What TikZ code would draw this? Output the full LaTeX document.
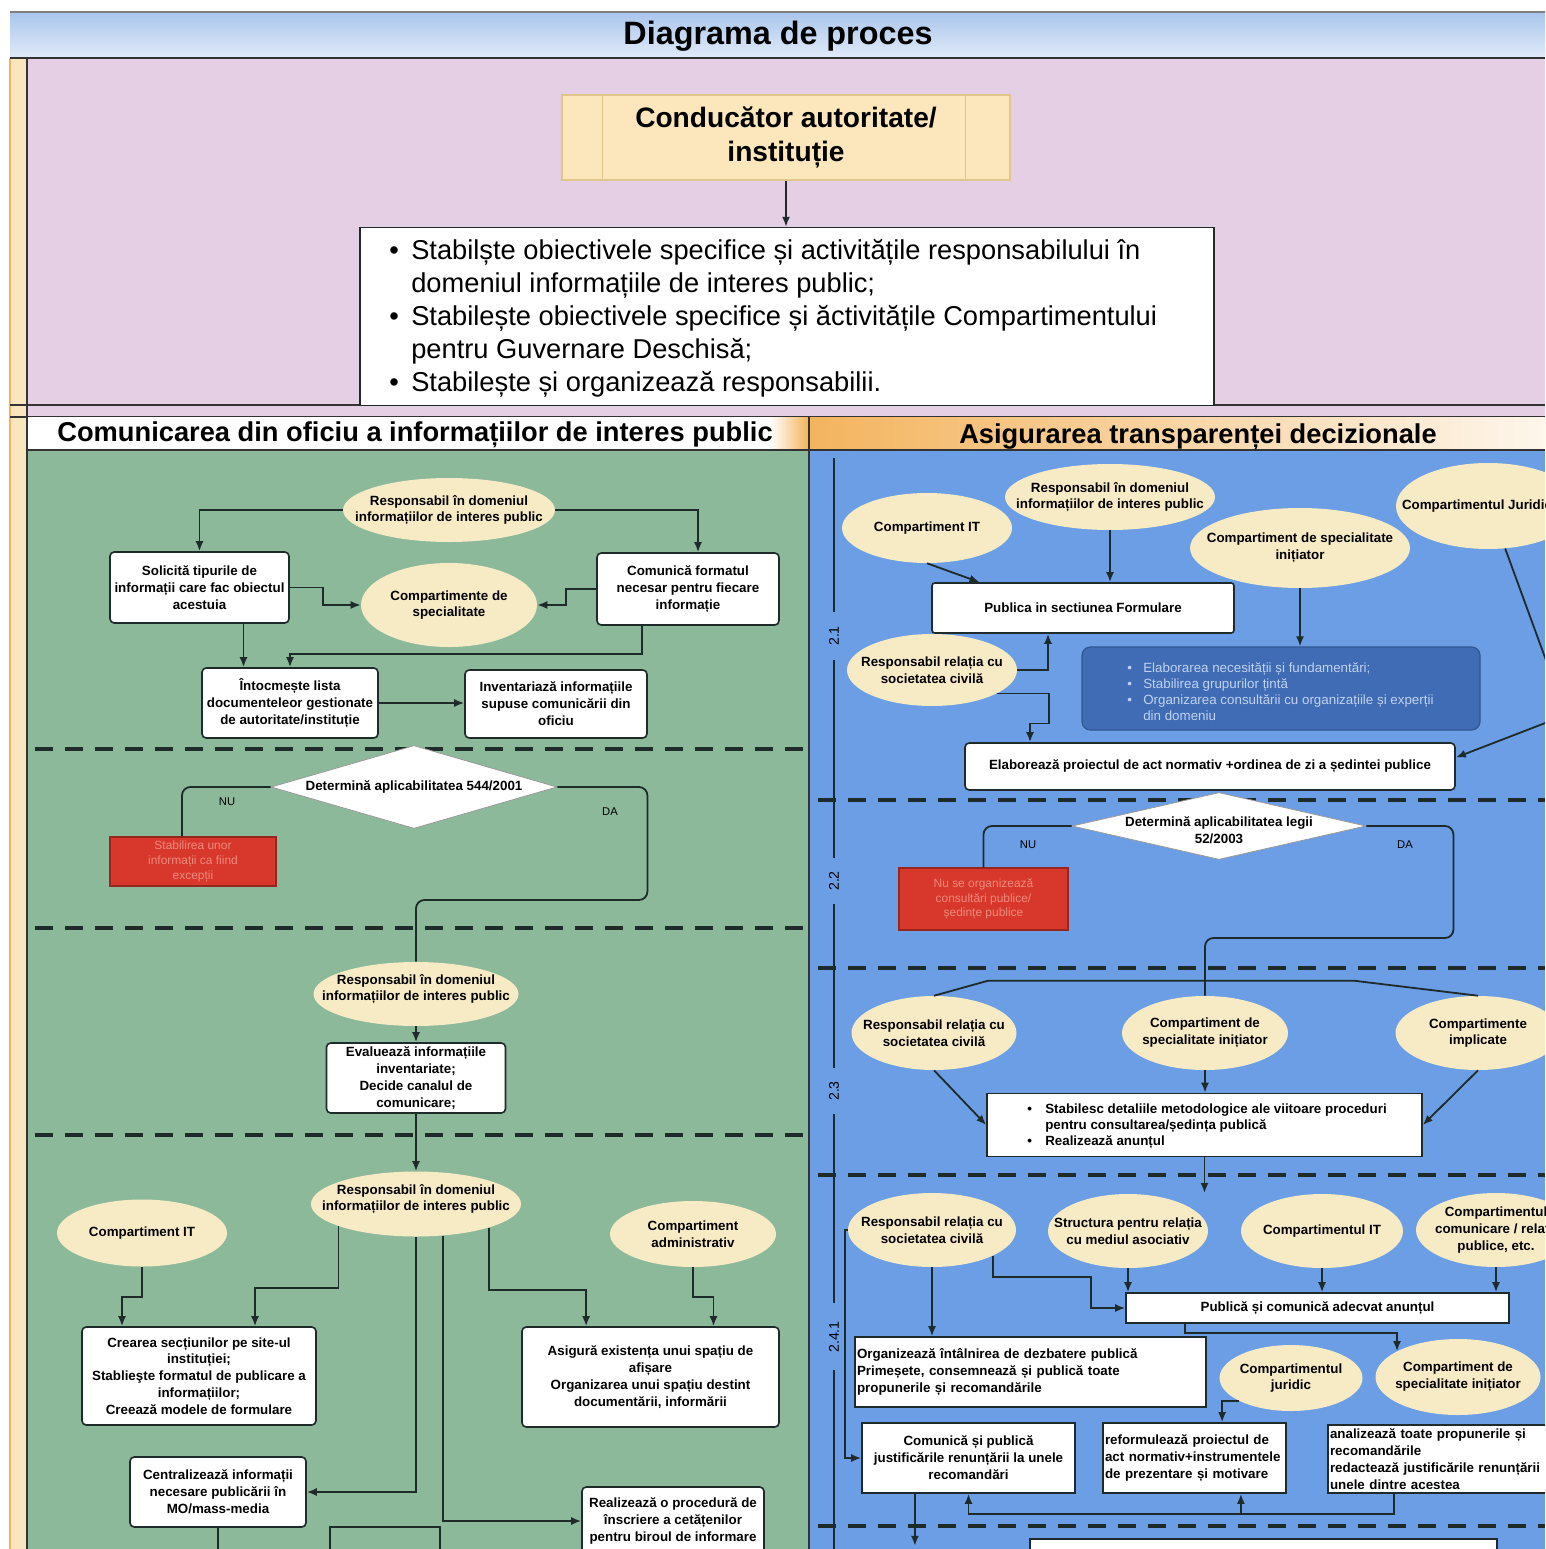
\documentclass[tikz,border=0pt]{standalone}
\usepackage{fontspec}
\setmainfont{Liberation Sans}
\usetikzlibrary{shapes.geometric,arrows.meta,positioning}
\definecolor{lilac}{HTML}{E4CFE5}
\definecolor{leaf}{HTML}{8DB99B}
\definecolor{sky}{HTML}{6B9EE4}
\definecolor{cream}{HTML}{F6EBC4}
\definecolor{hdblue}{HTML}{A9C5EC}
\definecolor{hdorange}{HTML}{F3B45E}
\definecolor{strip}{HTML}{F9E6BF}
\definecolor{leadfill}{HTML}{FBE7BB}
\definecolor{leadline}{HTML}{E2C58A}
\definecolor{alarm}{HTML}{D8382B}
\definecolor{alarmtext}{HTML}{EE8A7E}
\definecolor{deepblue}{HTML}{3F6CB5}
\definecolor{deeptext}{HTML}{C2D2F0}
\definecolor{ink}{HTML}{1F2A2A}
\newcommand{\bul}[1]{\makebox[#1][l]{\textbullet}}

\begin{document}
\begin{tikzpicture}[x=0.25mm,y=-0.25mm,
	ell/.style={ellipse,fill=cream,inner sep=0pt},
	txt/.style={inner sep=0pt,align=center,font=\fontsize{9.5}{12}\selectfont\bfseries},
	box/.style={rectangle,draw=ink,line width=0.4mm,fill=white,rounded corners=3pt,inner sep=1pt,align=center,font=\fontsize{9.5}{12}\selectfont\bfseries},
	sqbox/.style={box,sharp corners},
	redbox/.style={rectangle,fill=alarm,draw=alarm!70!black,line width=0.3mm,inner sep=0.5pt,align=center,text=alarmtext,font=\fontsize{8.5}{10.5}\selectfont},
	darkbox/.style={rectangle,rounded corners=6pt,fill=deepblue,draw=deepblue!80!black,line width=0.3mm},
	decide/.style={diamond,fill=white,draw=black!40,line width=0.2mm,inner sep=0pt},
	leadbox/.style={rectangle,fill=leadfill,draw=leadline,line width=0.3mm,align=center,font=\fontsize{20}{24}\selectfont\bfseries},
	headtxt/.style={inner sep=0pt,font=\fontsize{19.4}{23}\selectfont\bfseries},
	dutytxt/.style={inner sep=0pt,align=left,font=\fontsize{19.4}{23.5}\selectfont},
	needtxt/.style={inner sep=0pt,align=left,text=deeptext,font=\fontsize{9.5}{11.4}\selectfont},
	listtxt/.style={inner sep=0pt,align=left,font=\fontsize{9.5}{11.5}\selectfont\bfseries},
	yesno/.style={inner sep=0pt,font=\fontsize{8}{9}\selectfont},
	phase/.style={inner sep=0pt,rotate=90,font=\fontsize{10}{12}\selectfont},
	wire/.style={draw=ink,line width=0.45mm},
	arr/.style={wire,-{Latex[length=2.5mm,width=2mm]}},
	cutline/.style={draw=ink,line width=1.1mm,dash pattern=on 4.5mm off 3mm}]

	\useasboundingbox (0,0) rectangle (1545,1549);
	\clip (0,0) rectangle (1545,1549);

	% background bands
	\fill[white] (0,0) rectangle (1545,1549);
	\shade[top color=hdblue,bottom color=hdblue!35!white] (10,12) rectangle (1545,58);
	\draw[black!50,line width=0.3mm] (10,12) -- (1545,12);
	\fill[strip] (10,58) rectangle (27,1549);
	\draw[hdorange,line width=0.3mm] (10,58) -- (10,1549);
	\fill[lilac] (27,58) rectangle (1545,417);
	\draw[black!80,line width=0.6mm] (10,58) -- (1545,58);
	\draw[black!80,line width=0.5mm] (10,405) -- (1545,405);
	\draw[black!80,line width=0.5mm] (10,417) -- (1545,417);
	\fill[white] (27,417) rectangle (808,450);
	\shade[left color=white,right color=hdorange] (770,417) rectangle (808,450);
	\shade[left color=hdorange,right color=hdorange!12!white] (810,417) rectangle (1545,450);
	\fill[leaf] (27,450) rectangle (808,1549);
	\fill[sky] (810,450) rectangle (1545,1549);
	\draw[black!80,line width=0.4mm] (27,450) -- (1545,450);
	\draw[black!80,line width=0.4mm] (27,58) -- (27,1549);
	\draw[black!80,line width=0.6mm] (809,417) -- (809,1549);

	\node[inner sep=0pt,font=\fontsize{23}{27}\selectfont\bfseries] (title) at (778,36) {Diagrama de proces};
	\node[headtxt] (hdleft) at (415,435) {Comunicarea din oficiu a informațiilor de interes public};
	\node[headtxt] (hdright) at (1198,437) {Asigurarea transparenței decizionale};

	% top part
	\node[leadbox,minimum width=112mm,minimum height=21.25mm] (lead) at (786,137.5) {Conducător autoritate/\\instituție};
	\draw[leadline,line width=0.3mm] ([xshift=10.25mm]lead.north west) -- ([xshift=10.25mm]lead.south west);
	\draw[leadline,line width=0.3mm] ([xshift=-11.25mm]lead.north east) -- ([xshift=-11.25mm]lead.south east);
	\node[rectangle,fill=white,draw=ink,line width=0.35mm,minimum width=213.5mm,minimum height=44.5mm] (duties) at (787,316.5) {};
	\node[dutytxt,anchor=west] (dutylist) at (389,318) {\bul{5.5mm}Stabilște obiectivele specifice și activitățile responsabilului în\\
		\hspace*{5.5mm}domeniul informațiile de interes  public;\\
		\bul{5.5mm}Stabilește obiectivele specifice și ăctivitățile Compartimentului\\
		\hspace*{5.5mm}pentru Guvernare Deschisă;\\
		\bul{5.5mm}Stabilește și organizează responsabilii.};
	\draw[arr] (lead.south) -- (lead.south |- duties.north);

	% left panel
	\foreach \y in {749,928,1135}
		\draw[cutline] (35,\y) -- (803,\y);

	\node[ell,minimum width=53mm,minimum height=16mm] (respA) at (449,510) {};
	\node[ell,minimum width=44mm,minimum height=21mm] (specL) at (449,605) {};
	\node[txt] (respAtxt) at (respA) {Responsabil în domeniul\\informațiilor de interes public};
	\node[txt] (specLtxt) at (specL) {Compartimente de\\specialitate};
	\node[box,minimum width=44.75mm,minimum height=17.75mm] (ask) at (199.5,587.5) {Solicită  tipurile de\\informații care fac obiectul\\acestuia};
	\node[box,minimum width=45.5mm,minimum height=18mm] (fmt) at (688,589) {Comunică formatul\\necesar pentru fiecare\\informație};
	\node[box,minimum width=44mm,minimum height=17.5mm] (list) at (290,703) {Întocmește lista\\documenteleor gestionate\\de autoritate/instituție};
	\node[box,minimum width=45.5mm,minimum height=17mm] (inv) at (556,704) {Inventariază informațiile\\supuse comunicării din\\oficiu};

	\draw[arr] (respA.west) -| (ask.north);
	\draw[arr] (respA.east) -| ([xshift=2.5mm]fmt.north);
	\draw[arr] (ask.east) -- ++(33,0) |- (specL.west);
	\draw[arr] (fmt.west) -- ++(-30,0) |- (specL.east);
	\draw[arr] ([xshift=11mm]ask.south) -- ([xshift=11mm]ask.south |- list.north);
	\draw[arr] ([xshift=-11.5mm]fmt.south) -- ++(0,28) -| (list.north);
	\draw[arr] (list.east) -- (list.east -| inv.west);

	\node[decide,minimum width=71.5mm,minimum height=20.75mm] (law1) at (414,787) {};
	\node[txt] (law1txt) at (law1) {Determină aplicabilitatea  544/2001};
	\node[redbox,minimum width=41.5mm,minimum height=12.25mm] (exc) at (193,861.5) {Stabilirea unor\\informații ca fiind\\excepții};
	\node[yesno] (nu1) at (227,802) {NU};
	\node[yesno] (da1) at (610,812) {DA};

	\node[ell,minimum width=51.25mm,minimum height=16mm] (respB) at (416,994) {};
	\node[txt] (respBtxt) at (416,989) {Responsabil în domeniul\\informațiilor de interes public};
	\node[box,minimum width=44.75mm,minimum height=17.5mm] (eval) at (416,1078) {Evaluează informațiile\\inventariate;\\Decide canalul de\\comunicare;};
	\node[ell,minimum width=52.5mm,minimum height=16.25mm] (respC) at (416,1204) {};
	\node[txt] (respCtxt) at (416,1199) {Responsabil în domeniul\\informațiilor de interes public};

	\draw[wire,rounded corners=6pt] (law1.west) -| ([xshift=-2.75mm]exc.north);
	\draw[wire,rounded corners=6pt] (law1.east) -- ++(90,0) -- ++(0,113) -| (respB.north);
	\draw[arr] (respB) -- (eval);
	\draw[arr] (eval) -- (respC);

	\node[ell,minimum width=42.5mm,minimum height=16.75mm] (itA) at (142,1233) {};
	\node[txt] (itAtxt) at (itA) {Compartiment IT};
	\node[ell,minimum width=41.5mm,minimum height=16.5mm] (admin) at (693,1234) {};
	\node[txt] (admintxt) at (admin) {Compartiment\\administrativ};
	\node[box,minimum width=58.5mm,minimum height=24.5mm] (site) at (199,1376) {Crearea secțiunilor pe site-ul\\instituției;\\Stablieşte formatul de publicare a\\informațiilor;\\Creează modele de formulare};
	\node[box,minimum width=64.25mm,minimum height=25mm] (space) at (650.5,1377) {Asigură existența unui spațiu de\\afișare\\Organizarea unui spațiu destint\\documentării, informării};
	\node[box,minimum width=44mm,minimum height=17.5mm] (media) at (218,1492) {Centralizează informații\\necesare publicării în\\MO/mass-media};
	\node[box,minimum width=45.5mm,minimum height=17mm] (enrol) at (673,1521) {Realizează o procedură de\\înscriere a cetățenilor\\pentru biroul de informare};

	\draw[arr] (itA.south) -- ++(0,30) -| ([xshift=-19.25mm]site.north);
	\draw[arr] (respC.196) -- ++(0,62) -| ([xshift=14mm]site.north);
	\draw[arr] (respC.south) |- (media.east);
	\draw[arr] (respC.310) |- (enrol.west);
	\draw[arr] (respC.342) -- ++(0,62) -| ([xshift=-16.1mm]space.north);
	\draw[arr] (admin.south) -- ++(0,30) -| ([xshift=15.75mm]space.north);
	\coordinate (mediaout) at (218,1562);
	\draw[arr] (media) -- (mediaout);
	\coordinate (loopL) at (330,1560);
	\coordinate (loopR) at (440,1560);
	\draw[wire] (loopL) -- ++(0,-33) -| (loopR);

	% right panel
	\foreach \y in {800,968,1175,1526}
		\draw[cutline] (818,\y) -- (1545,\y);
	\foreach \ya/\yb in {458/612,660/858,904/1068,1114/1303,1370/1549}
		\draw[wire,line width=0.35mm] (834,\ya) -- (834,\yb);
	\node[phase] (st1) at (834,636) {2.1};
	\node[phase] (st2) at (834,881) {2.2};
	\node[phase] (st3) at (834,1091) {2.3};
	\node[phase] (st4) at (834,1337) {2.4.1};

	\node[ell,minimum width=42.5mm,minimum height=17.5mm] (itB) at (927,528) {};
	\node[ell,minimum width=52.5mm,minimum height=16.5mm] (respD) at (1110,497) {};
	\node[ell,minimum width=55mm,minimum height=20mm] (specA) at (1300,548) {};
	\node[ell,minimum width=46mm,minimum height=21.5mm] (jurA) at (1488,506) {};
	\node[ell,minimum width=42.5mm,minimum height=18mm] (socA) at (932,670) {};
	\node[txt] (itBtxt) at (itB) {Compartiment IT};
	\node[txt] (respDtxt) at (respD) {Responsabil în domeniul\\informațiilor de interes public};
	\node[txt] (specAtxt) at (specA) {Compartiment de specialitate\\inițiator};
	\node[txt] (jurAtxt) at (1477,506) {Compartimentul Juridic};
	\node[txt] (socAtxt) at (socA) {Responsabil relația cu\\societatea civilă};
	\node[box,rounded corners=2pt,minimum width=75.5mm,minimum height=12.5mm] (formA) at (1083,608) {Publica in sectiunea Formulare};
	\node[darkbox,minimum width=99.5mm,minimum height=20.75mm] (needs) at (1281,688.5) {};
	\node[needtxt,anchor=west] (needstxt) at (1127,692) {\bul{4mm}Elaborarea necesității și fundamentări;\\
		\bul{4mm}Stabilirea grupurilor țintă\\
		\bul{4mm}Organizarea consultării cu organizațiile și experții\\
		\hspace*{4mm}din domeniu};
	\node[box,minimum width=122.5mm,minimum height=11.75mm] (draftA) at (1210,766.5) {Elaborează  proiectul de act normativ +ordinea de zi a ședintei publice};

	\draw[arr] (itB.south) -- (formA.166);
	\draw[arr] (respD.south) -- (respD.south |- formA.north);
	\draw[arr] (specA.south) -- (specA.south |- needs.north);
	\draw[arr] (socA.east) -| ([xshift=-8.75mm]formA.south);
	\draw[arr] (socA.340) -- ++(52,0) -- ++(0,30) -| ([xshift=-45mm]draftA.north);
	\coordinate (jurbend) at (1566,715);
	\draw[arr] (jurA.292) -- (jurbend) -- ([yshift=2.25mm]draftA.east);

	\node[decide,minimum width=73.5mm,minimum height=16.75mm] (law2) at (1219,826) {};
	\node[txt] (law2txt) at (1219,830) {Determină aplicabilitatea legii\\52/2003};
	\node[redbox,minimum width=42.25mm,minimum height=15.5mm] (noc) at (983.5,899) {Nu se organizează\\consultări publice/\\ședințe publice};
	\node[yesno] (nu2) at (1028,845) {NU};
	\node[yesno] (da2) at (1405,845) {DA};

	\node[ell,minimum width=41.25mm,minimum height=18.5mm] (socB) at (934,1033) {};
	\node[ell,minimum width=41.5mm,minimum height=18.5mm] (specB) at (1205,1033) {};
	\node[ell,minimum width=41.25mm,minimum height=18.5mm] (impl) at (1478,1033) {};
	\node[txt] (socBtxt) at (socB) {Responsabil relația cu\\societatea civilă};
	\node[txt] (specBtxt) at (specB) {Compartiment de\\specialitate inițiator};
	\node[txt] (impltxt) at (impl) {Compartimente\\implicate};
	\node[sqbox,minimum width=108.75mm,minimum height=15.75mm] (methods) at (1204.5,1125) {};
	\node[listtxt,anchor=west] (methodstxt) at (1027,1126) {\bul{4.5mm}Stabilesc detaliile metodologice ale viitoare proceduri\\
		\hspace*{4.5mm}pentru consultarea/ședința publică\\
		\bul{4.5mm}Realizează anunțul};

	\draw[wire,rounded corners=6pt] (law2.west) -| (noc.north);
	\draw[wire,rounded corners=6pt] (law2.east) -- ++(87,0) -- ++(0,112) -| (specB.north);
	\draw[wire] (socB.north) -- ++(54,-15) -- ++(366,0) -- (impl.north);
	\draw[arr] (socB.south) -- (methods.west);
	\draw[arr] (specB.south) -- (specB.south |- methods.north);
	\draw[arr] (impl.south) -- (methods.east);
	\coordinate (annc) at (1204.5,1193);
	\draw[arr] (methods.south) -- (annc);

	\node[ell,minimum width=42mm,minimum height=18.5mm] (socC) at (932,1230) {};
	\node[ell,minimum width=40mm,minimum height=18.5mm] (struct) at (1128,1231) {};
	\node[ell,minimum width=40.5mm,minimum height=18.5mm] (itC) at (1322,1231) {};
	\node[ell,minimum width=40mm,minimum height=18.5mm] (comms) at (1496,1230) {};
	\node[txt] (socCtxt) at (socC) {Responsabil relația cu\\societatea civilă};
	\node[txt] (structtxt) at (struct) {Structura pentru relația\\cu mediul asociativ};
	\node[txt] (itCtxt) at (itC) {Compartimentul IT};
	\node[txt] (commstxt) at (comms) {Compartimentul\\comunicare / relații\\publice, etc.};
	\node[sqbox,minimum width=95.75mm,minimum height=7.5mm] (post) at (1317.5,1308) {Publică și comunică adecvat anunțul};
	\node[sqbox,minimum width=87.75mm,minimum height=17.5mm,text width=86.75mm,align=left] (meet) at (1030.5,1372) {Organizează întâlnirea de dezbatere publică\\Primeșete, consemnează și publică toate\\propunerile și recomandările};
	\node[ell,minimum width=35.75mm,minimum height=16.5mm] (jurB) at (1291,1378) {};
	\node[ell,minimum width=41.25mm,minimum height=19mm] (specC) at (1458,1377) {};
	\node[txt] (jurBtxt) at (jurB) {Compartimentul\\juridic};
	\node[txt] (specCtxt) at (specC) {Compartiment de\\specialitate inițiator};
	\node[sqbox,minimum width=53.25mm,minimum height=17.5mm] (justify) at (968.5,1458) {Comunică și publică\\justificările renunțării la unele\\recomandări};
	\node[sqbox,minimum width=45.75mm,minimum height=17.5mm,text width=44.75mm,align=left] (reform) at (1194.5,1458) {reformulează proiectul de\\act normativ+instrumentele\\de prezentare și motivare};
	\node[sqbox,minimum width=59.25mm,minimum height=17mm,text width=58.25mm,align=left] (review) at (1446.5,1459) {analizează toate propunerile și\\recomandările\\redactează justificările renunțării\\unele dintre acestea};
	\node[sqbox,minimum width=116.75mm,minimum height=12mm,anchor=north] (nextbox) at (1263.5,1538) {};

	\draw[arr] (struct.south) -- (struct.south |- post.north);
	\draw[arr] (itC.south) -- (itC.south |- post.north);
	\draw[arr] (comms.south) -- (comms.south |- post.north);
	\draw[arr] (socC.337) -- ++(0,21) -- ++(98,0) |- (post.west);
	\draw[arr] (socC.south) -- (socC.south |- meet.north);
	\draw[arr] (socC.west) -- ++(-3,0) |- (justify.west);
	\draw[arr] ([xshift=-33.1mm]post.south) -- ++(0,9) -| (specC.157);
	\draw[arr] (jurB.204) -| ([xshift=6.9mm]reform.north);
	\draw[arr] ([xshift=-13.1mm]review.south) -- ++(0,20) -| ([xshift=11.6mm]reform.south);
	\draw[arr] ([xshift=11.6mm]reform.south) ++(0,20) -| (justify.south);
	\draw[arr] ([xshift=-13.4mm]justify.south) -- ++(0,52);
\end{tikzpicture}
\end{document}
